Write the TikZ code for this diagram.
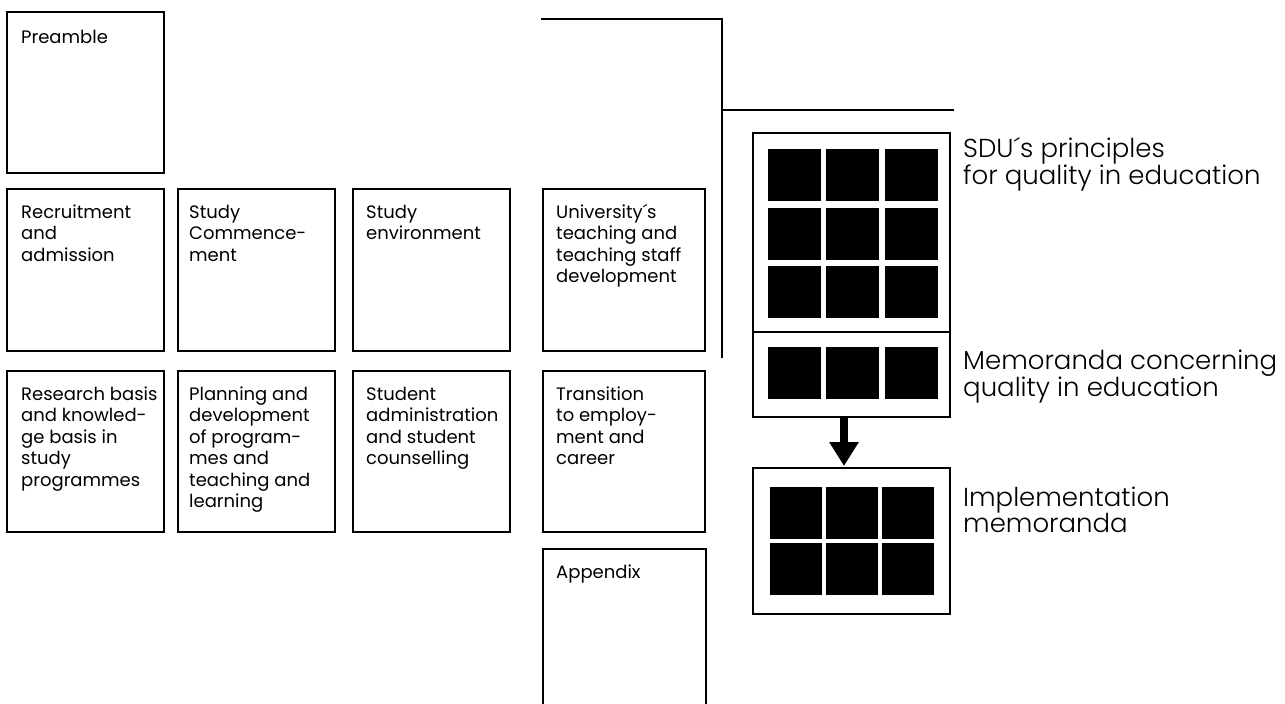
\documentclass[tikz,border=0pt]{standalone}
\usepackage{fontspec}
\setmainfont{Poppins}
\newfontfamily\lightfont{Poppins Light}
\usetikzlibrary{arrows.meta}
\newcommand\Ln[1]{\hbox{#1}}
\begin{document}
\begin{tikzpicture}[x=1pt,y=-1pt,
  box/.style={draw, line width=2pt, anchor=north west, inner sep=0pt, outer sep=0pt},
  cell/.style={box, minimum width=157pt, minimum height=162pt},
  boxtext/.style={anchor=base west, inner sep=0pt, font=\fontsize{18}{21.5}\selectfont},
  sidetext/.style={anchor=base west, inner sep=0pt, font=\lightfont\fontsize{26}{25}\selectfont},
  sq/.style={fill=black, anchor=north west, inner sep=0pt, outer sep=0pt},
  rule/.style={line width=2pt},
]
\useasboundingbox (0,0) rectangle (1285,704);

% left grid of boxes
\node[cell, minimum height=161pt] (pre) at (7,12) {};
\node[cell] (rec) at (7,189) {};
\node[cell] (com) at (178,189) {};
\node[cell] (env) at (353,189) {};
\node[cell, minimum width=162pt] (uni) at (543,189) {};
\node[cell, minimum height=161pt] (res) at (7,371) {};
\node[cell, minimum height=161pt] (pla) at (178,371) {};
\node[cell, minimum height=161pt] (adm) at (353,371) {};
\node[cell, minimum width=162pt, minimum height=161pt] (tra) at (543,371) {};
\node[cell, minimum width=163pt, minimum height=170pt] (app) at (543,549) {};

\node[boxtext] (tpre) at ([shift={(14pt,-31pt)}]pre.north west) {\vtop{\Ln{Preamble}}};
\node[boxtext] (trec) at ([shift={(14pt,-29pt)}]rec.north west) {\vtop{\Ln{Recruitment}\Ln{and}\Ln{admission}}};
\node[boxtext] (tcom) at ([shift={(11pt,-29pt)}]com.north west) {\vtop{\Ln{Study}\Ln{Commence-}\Ln{ment}}};
\node[boxtext] (tenv) at ([shift={(13pt,-29pt)}]env.north west) {\vtop{\Ln{Study}\Ln{environment}}};
\node[boxtext] (tuni) at ([shift={(13pt,-29pt)}]uni.north west) {\vtop{\Ln{University´s}\Ln{teaching and}\Ln{teaching staff}\Ln{development}}};
\node[boxtext] (tres) at ([shift={(14pt,-29pt)}]res.north west) {\vtop{\Ln{Research basis}\Ln{and knowled-}\Ln{ge basis in}\Ln{study}\Ln{programmes}}};
\node[boxtext] (tpla) at ([shift={(11pt,-29pt)}]pla.north west) {\vtop{\Ln{Planning and}\Ln{development}\Ln{of program-}\Ln{mes and}\Ln{teaching and}\Ln{learning}}};
\node[boxtext] (tadm) at ([shift={(13pt,-29pt)}]adm.north west) {\vtop{\Ln{Student}\Ln{administration}\Ln{and student}\Ln{counselling}}};
\node[boxtext] (ttra) at ([shift={(13pt,-29pt)}]tra.north west) {\vtop{\Ln{Transition}\Ln{to employ-}\Ln{ment and}\Ln{career}}};
\node[boxtext] (tapp) at ([shift={(13pt,-29pt)}]app.north west) {\vtop{\Ln{Appendix}}};

% bracket lines
\coordinate (l1) at (541,19);
\coordinate (l2) at (722,19);
\coordinate (l3) at (722,358);
\coordinate (l4) at (722,110);
\coordinate (l5) at (954,110);
\draw[rule] (l1) -- (l2) -- (l3);
\draw[rule] (l4) -- (l5);

% right side frames
\node[box, minimum width=197pt, minimum height=199pt] (prin) at (753,133) {};
\node[box, minimum width=197pt, minimum height=85pt] (memo) at (753,332) {};
\node[box, minimum width=197pt, minimum height=146pt] (impl) at (753,468) {};

\foreach \i in {0,1,2}{
  \foreach \j in {0,1,2}{
    \node[sq, minimum width=53pt, minimum height=52pt] (p\i\j) at (767.5+58.5*\j,149+58.5*\i) {};
  }
  \node[sq, minimum width=53pt, minimum height=52pt] (m\i) at (767.5+58.5*\i,347) {};
}
\foreach \i in {0,1}{
  \foreach \j in {0,1,2}{
    \node[sq, minimum width=52pt, minimum height=52pt] (q\i\j) at (770+56*\j,487+56*\i) {};
  }
}

\draw[line width=7.5pt, -{Triangle[width=28pt,length=24pt]}] ([xshift=-7.5pt]memo.south) -- ([xshift=-7.5pt,yshift=2pt]impl.north);

% side labels
\node[sidetext] (sdu) at (963,157) {\vtop{\Ln{SDU´s principles}\Ln{for quality in education}}};
\node[sidetext] (mem) at (963,369) {\vtop{\Ln{Memoranda concerning}\Ln{quality in education}}};
\node[sidetext] (imp) at (963,506) {\vtop{\Ln{Implementation}\Ln{memoranda}}};
\end{tikzpicture}
\end{document}
